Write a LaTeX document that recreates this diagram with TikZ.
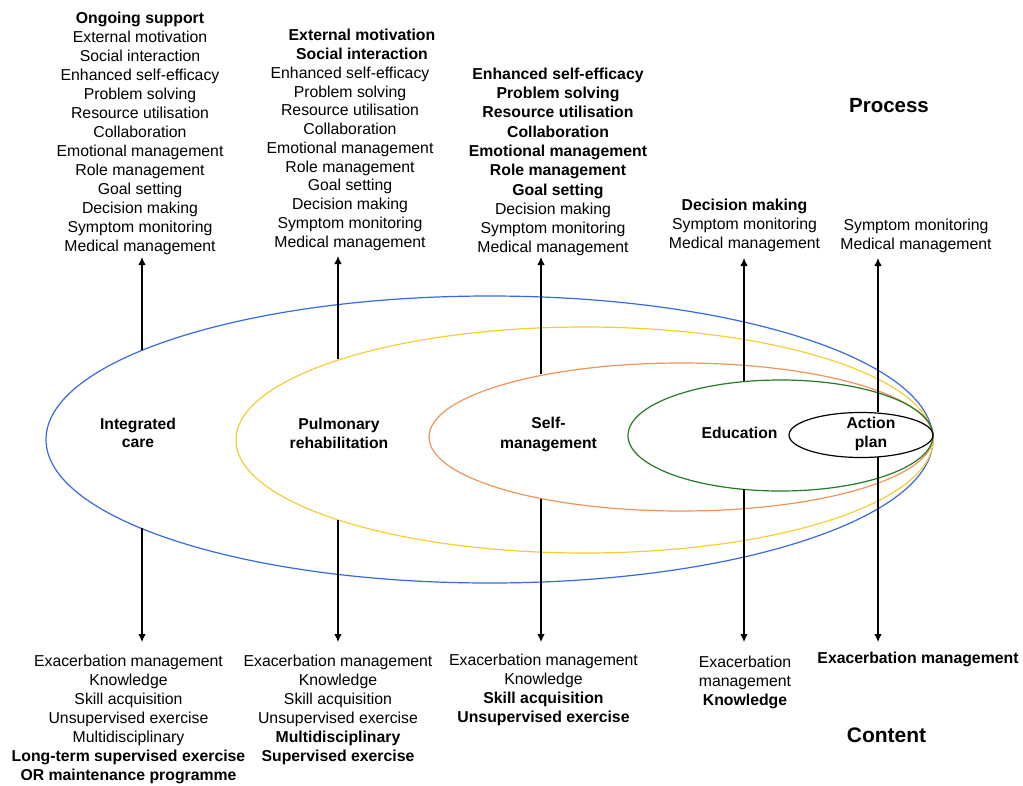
\documentclass[tikz,border=0pt]{standalone}
\usepackage{fontspec}
\setmainfont{Liberation Sans}
\usetikzlibrary{arrows.meta}
\definecolor{cblue}{RGB}{55,105,228}
\definecolor{cyellow}{RGB}{246,206,52}
\definecolor{corange}{RGB}{240,148,88}
\definecolor{cgreen}{RGB}{38,122,38}
\begin{document}
\begin{tikzpicture}[x=1pt,y=-1pt,
  blk/.style={align=center,inner sep=0pt,anchor=north,font=\fontsize{15.8}{19}\selectfont},
  lbl/.style={align=center,inner sep=0pt,anchor=north,font=\fontsize{15.7}{19}\selectfont\bfseries},
  head/.style={inner sep=0pt,anchor=base,font=\fontsize{21}{25}\selectfont\bfseries},
  ell/.style={line width=1.2pt},
  arr/.style={line width=1.1pt,-{Latex[length=8pt,width=7.5pt]}}]
\useasboundingbox (0,0) rectangle (1023,785);
\fill[white] (0,0) rectangle (1023,785);

% ellipses
\draw[ell,cblue]   (489.5,439.5) ellipse [x radius=443.5pt, y radius=143.5pt];
\draw[ell,cyellow] (584.5,440)   ellipse [x radius=348.5pt, y radius=113pt];
\draw[ell,corange] (681,437)     ellipse [x radius=252pt,   y radius=74pt];
\draw[ell,cgreen]  (780.5,435.5) ellipse [x radius=152.5pt, y radius=55.5pt];
\draw[ell,black]   (861,435)     ellipse [x radius=72pt,    y radius=22.5pt];

% ellipse labels
\node[lbl,font=\fontsize{15.7}{18.5}\selectfont\bfseries] (lic) at (138,417) {\rule{0pt}{12pt}Integrated\\care};
\node[lbl] (lpr) at (339,417) {\rule{0pt}{12pt}Pulmonary\\rehabilitation};
\node[lbl,font=\fontsize{15.7}{20}\selectfont\bfseries] (lsm) at (548.5,416) {\rule{0pt}{12pt}Self-\\management};
\node[lbl,anchor=base] (led) at (739.5,438) {Education};
\node[lbl] (lap) at (871,416) {\rule{0pt}{12pt}Action\\plan};

% headings
\node[head,font=\fontsize{20.5}{25}\selectfont\bfseries] (proc) at (889,112) {Process};
\node[head] (cont) at (886.5,742) {Content};

% process texts
\node[blk] (t1) at (140,11.3) {\rule{0pt}{12pt}\textbf{Ongoing support}\\External motivation\\Social interaction\\Enhanced self-efficacy\\Problem solving\\Resource utilisation\\Collaboration\\Emotional management\\Role management\\Goal setting\\Decision making\\Symptom monitoring\\Medical management};
\node[blk,font=\fontsize{15.8}{18.75}\selectfont] (t2) at (350,28.7) {\rule{0pt}{12pt}\hspace*{24pt}\textbf{External motivation}\\\hspace*{24pt}\textbf{Social interaction}\\Enhanced self-efficacy\\Problem solving\\Resource utilisation\\Collaboration\\Emotional management\\Role management\\Goal setting\\Decision making\\Symptom monitoring\\Medical management};
\node[blk,font=\fontsize{15.8}{19.3}\selectfont] (t3) at (553,67) {\rule{0pt}{12pt}\hspace*{10pt}\textbf{Enhanced self-efficacy}\\\hspace*{10pt}\textbf{Problem solving}\\\hspace*{10pt}\textbf{Resource utilisation}\\\hspace*{10pt}\textbf{Collaboration}\\\hspace*{10pt}\textbf{Emotional management}\\\hspace*{10pt}\textbf{Role management}\\\hspace*{10pt}\textbf{Goal setting}\\Decision making\\Symptom monitoring\\Medical management};
\node[blk] (t4) at (744.5,198) {\rule{0pt}{12pt}\textbf{Decision making}\\Symptom monitoring\\Medical management};
\node[blk] (t5) at (916,218) {\rule{0pt}{12pt}Symptom monitoring\\Medical management};

% content texts
\node[blk] (c1) at (128.5,654) {\rule{0pt}{12pt}Exacerbation management\\Knowledge\\Skill acquisition\\Unsupervised exercise\\Multidisciplinary\\\textbf{Long-term supervised exercise}\\\textbf{OR maintenance programme}};
\node[blk] (c2) at (338,654) {\rule{0pt}{12pt}Exacerbation management\\Knowledge\\Skill acquisition\\Unsupervised exercise\\\textbf{Multidisciplinary}\\\textbf{Supervised exercise}};
\node[blk,font=\fontsize{15.8}{19.2}\selectfont] (c3) at (543.5,653) {\rule{0pt}{12pt}Exacerbation management\\Knowledge\\\textbf{Skill acquisition}\\\textbf{Unsupervised exercise}};
\node[blk] (c4) at (745,655) {\rule{0pt}{12pt}Exacerbation\\management\\\textbf{Knowledge}};
\node[blk,anchor=base] (c5) at (918,663) {\textbf{Exacerbation management}};

% arrow end points
\coordinate (s1) at (142,350);   \coordinate (e1) at (142,257);
\coordinate (s2) at (338,359);   \coordinate (e2) at (338,256);
\coordinate (s3) at (541,374);   \coordinate (e3) at (541,257);
\coordinate (s4) at (744,381);   \coordinate (e4) at (744,258);
\coordinate (s5) at (878,412);   \coordinate (e5) at (878,258);
\coordinate (u1) at (142,528);   \coordinate (f1) at (142,642);
\coordinate (u2) at (338,520);   \coordinate (f2) at (338,642);
\coordinate (u3) at (541,499);   \coordinate (f3) at (541,642);
\coordinate (u4) at (744,489);   \coordinate (f4) at (744,642);
\coordinate (u5) at (878,457);   \coordinate (f5) at (878,642);

\foreach \i in {1,...,5}{
  \draw[arr] (s\i) -- (e\i);
  \draw[arr] (u\i) -- (f\i);
}
\end{tikzpicture}
\end{document}
